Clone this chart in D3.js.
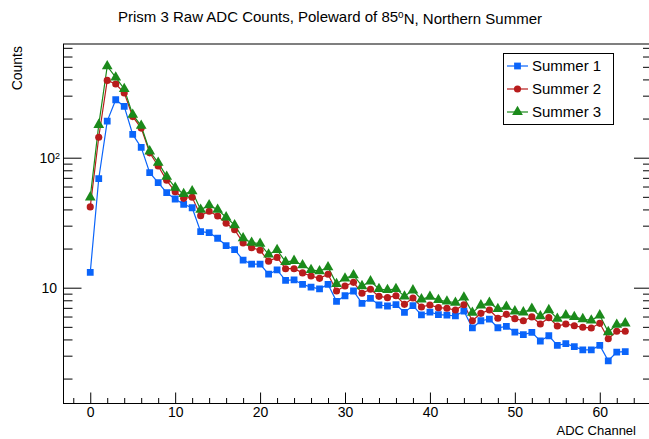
<!DOCTYPE html>
<html>
<head>
<meta charset="utf-8">
<script src="https://cdn.jsdelivr.net/npm/d3@7"></script>
<style>
  body { margin: 0; background: white; }
  svg { display: block; font-family: "Liberation Sans", Arial, sans-serif; }
</style>
</head>
<body>
<svg id="chart"></svg>
<script>
// ADC channel numbers (x)
const channels = [
  0, 1, 2, 3, 4, 5, 6, 7, 8, 9, 10, 11, 12, 13, 14, 15,
  16, 17, 18, 19, 20, 21, 22, 23, 24, 25, 26, 27, 28, 29, 30, 31,
  32, 33, 34, 35, 36, 37, 38, 39, 40, 41, 42, 43, 44, 45, 46, 47,
  48, 49, 50, 51, 52, 53, 54, 55, 56, 57, 58, 59, 60, 61, 62, 63
];

// counts per channel
const summer1 = [
  13.1, 68.9, 191, 279, 248, 151, 120, 76.8, 64.3, 53.8, 48.1, 43.8, 41.2, 27.0, 26.5, 24.0,
  21.1, 19.6, 16.3, 15.2, 15.2, 12.7, 13.7, 11.4, 11.5, 10.6, 10.1, 9.8, 10.6, 7.85, 8.67, 9.43,
  7.58, 8.28, 7.36, 7.23, 7.4, 6.47, 7.27, 6.17, 6.5, 6.2, 6.15, 6.06, 6.62, 4.9, 5.57, 5.74,
  4.92, 5.04, 4.56, 4.35, 4.53, 3.89, 4.27, 3.6, 3.71, 3.52, 3.33, 3.33, 3.6, 2.74, 3.2, 3.22
];
const summer2 = [
  41.8, 143.6, 393, 369, 315, 207, 169, 109, 86.3, 67, 54.7, 48.7, 49.6, 35.8, 38.7, 35.6,
  31.3, 27.9, 22.1, 20.3, 19.4, 16.0, 17.1, 14.0, 14.0, 13.0, 12.3, 11.8, 12.7, 9.43, 10.3, 11.0,
  9.06, 9.72, 8.58, 8.38, 8.67, 7.45, 8.33, 7.11, 7.36, 7.02, 6.95, 6.73, 7.4, 5.57, 6.35, 6.73,
  5.82, 6.24, 5.78, 5.57, 5.96, 5.26, 5.88, 5.07, 5.26, 5.1, 4.96, 4.9, 5.32, 4.05, 4.62, 4.62
];
const summer3 = [
  49.6, 179, 505, 415, 338, 214, 176, 112, 91.5, 71.5, 58.8, 52.6, 55.2, 39.8, 43.1, 39.8,
  34.8, 30.3, 24, 22.2, 21.8, 18.0, 19.5, 15.8, 16.1, 14.9, 13.7, 13.4, 14.4, 10.7, 11.8, 12.5,
  10.3, 11.2, 9.77, 9.6, 9.8, 8.58, 9.55, 8.14, 8.52, 8.04, 7.83, 7.67, 8.43, 6.43, 7.32, 7.67,
  6.86, 7.14, 6.58, 6.47, 6.89, 6.03, 6.73, 5.78, 6.13, 5.96, 5.74, 5.61, 6.13, 4.56, 5.19, 5.32
];

const seriesNames = ["Summer 1", "Summer 2", "Summer 3"];
const seriesValues = [summer1, summer2, summer3];

// tick values
const xMajorTicks = [0, 10, 20, 30, 40, 50, 60];
const xMinorTicks = [-2, 2, 4, 6, 8, 12, 14, 16, 18, 22, 24, 26, 28, 32, 34, 36, 38,
  42, 44, 46, 48, 52, 54, 56, 58, 62, 64, 66];
const yMajorTicks = [10, 100];
const yMinorTicks = [2, 3, 4, 5, 6, 7, 8, 9, 20, 30, 40, 50, 60, 70, 80, 90, 200, 300, 400, 500, 600, 700];

// Set dimensions
const width = 649;
const height = 439;
const frameLeft = 63.5, frameRight = 652, frameTop = 44, frameBottom = 403.5;

const colors = ["#0a64fa", "#b81c1c", "#1b8a1b"];
const shapes = [d3.symbolSquare, d3.symbolCircle, d3.symbolTriangle];
const sizes = [46, 40, 50];

const svg = d3.select("#chart")
  .attr("width", width)
  .attr("height", height);

// Scales
const x = d3.scaleLinear().domain([-3.15, 66.15]).range([frameLeft, frameRight]);
const y = d3.scaleLog().domain([1.286, 749]).range([frameBottom, frameTop]);

// Title
const title = svg.append("text")
  .attr("x", 330)
  .attr("y", 22)
  .attr("text-anchor", "middle")
  .style("font-size", "15px");
title.append("tspan").text("Prism 3 Raw ADC Counts, Poleward of 85");
title.append("tspan").attr("dy", "-0.45em").style("font-size", "10px").text("o");
title.append("tspan").attr("dy", "0.45em").text("N, Northern Summer");

// Clip so that the data stays inside the frame
svg.append("clipPath").attr("id", "frame")
  .append("rect")
  .attr("x", frameLeft).attr("y", frameTop)
  .attr("width", frameRight - frameLeft).attr("height", frameBottom - frameTop);

// Axes (ticks point into the frame)
const xMajor = svg.append("g")
  .attr("transform", `translate(0,${frameBottom})`)
  .call(d3.axisBottom(x).tickValues(xMajorTicks).tickSize(-11).tickPadding(4));
const xMinor = svg.append("g")
  .attr("transform", `translate(0,${frameBottom})`)
  .call(d3.axisBottom(x).tickValues(xMinorTicks).tickSize(-5.5).tickFormat(""));

const yMajor = svg.append("g")
  .attr("transform", `translate(${frameLeft},0)`)
  .call(d3.axisLeft(y).tickValues(yMajorTicks).tickSize(-18).tickFormat(""));
const yMinor = svg.append("g")
  .attr("transform", `translate(${frameLeft},0)`)
  .call(d3.axisLeft(y).tickValues(yMinorTicks).tickSize(-9).tickFormat(""));

// mirrored ticks on the right side
const yMajorR = svg.append("g")
  .attr("transform", `translate(${frameRight},0)`)
  .call(d3.axisRight(y).tickValues(yMajorTicks).tickSize(-18).tickFormat(""));
const yMinorR = svg.append("g")
  .attr("transform", `translate(${frameRight},0)`)
  .call(d3.axisRight(y).tickValues(yMinorTicks).tickSize(-9).tickFormat(""));

[xMajor, xMinor, yMajor, yMinor, yMajorR, yMinorR].forEach(g => {
  g.select(".domain").remove();
  g.selectAll(".tick line").attr("stroke", "black");
  g.selectAll("text").style("font-size", "14px").attr("fill", "black")
    .style("font-family", "'Liberation Sans', Arial, sans-serif");
});

// y tick labels with superscript exponents
const yLabels = svg.append("g");
yLabels.append("text")
  .attr("x", 57).attr("y", y(10)).attr("dy", "0.36em")
  .attr("text-anchor", "end")
  .style("font-size", "14px")
  .text("10");
const lab100 = yLabels.append("text")
  .attr("x", 60).attr("y", y(100)).attr("dy", "0.36em")
  .attr("text-anchor", "end")
  .style("font-size", "14px");
lab100.append("tspan").text("10");
lab100.append("tspan").attr("dy", "-0.45em").style("font-size", "9px").text("2");

// Frame
svg.append("rect")
  .attr("x", frameLeft).attr("y", frameTop)
  .attr("width", frameRight - frameLeft).attr("height", frameBottom - frameTop)
  .attr("fill", "none")
  .attr("stroke", "black")
  .attr("stroke-width", 1);

// Axis titles
svg.append("text")
  .attr("x", 636)
  .attr("y", 435)
  .attr("text-anchor", "end")
  .style("font-size", "13px")
  .text("ADC Channel");

svg.append("text")
  .attr("transform", `translate(22,${frameTop + 2}) rotate(-90)`)
  .attr("text-anchor", "end")
  .style("font-size", "14px")
  .text("Counts");

// Lines and markers
const line = d3.line()
  .x((d, i) => x(channels[i]))
  .y(d => y(d));

const plot = svg.append("g").attr("clip-path", "url(#frame)");

seriesValues.forEach((vals, s) => {
  plot.append("path")
    .datum(vals)
    .attr("d", line)
    .attr("fill", "none")
    .attr("stroke", colors[s])
    .attr("stroke-width", 1.2);
});

seriesValues.forEach((vals, s) => {
  plot.selectAll(".m" + s)
    .data(vals)
    .enter()
    .append("path")
    .attr("class", "m" + s)
    .attr("d", d3.symbol().type(shapes[s]).size(sizes[s]))
    .attr("transform", (d, i) => `translate(${x(channels[i])},${y(d)})`)
    .attr("fill", colors[s]);
});

// Legend
const legend = svg.append("g");
legend.append("rect")
  .attr("x", 503.5).attr("y", 53.5)
  .attr("width", 110).attr("height", 71)
  .attr("fill", "white")
  .attr("stroke", "black");

seriesNames.forEach((name, s) => {
  const ly = 66 + s * 23;
  legend.append("line")
    .attr("x1", 507).attr("x2", 528)
    .attr("y1", ly).attr("y2", ly)
    .attr("stroke", colors[s])
    .attr("stroke-width", 1.2);
  legend.append("path")
    .attr("d", d3.symbol().type(shapes[s]).size(sizes[s]))
    .attr("transform", `translate(517.5,${ly})`)
    .attr("fill", colors[s]);
  legend.append("text")
    .attr("x", 532).attr("y", ly).attr("dy", "0.36em")
    .style("font-size", "15px")
    .text(name);
});
</script>
</body>
</html>
